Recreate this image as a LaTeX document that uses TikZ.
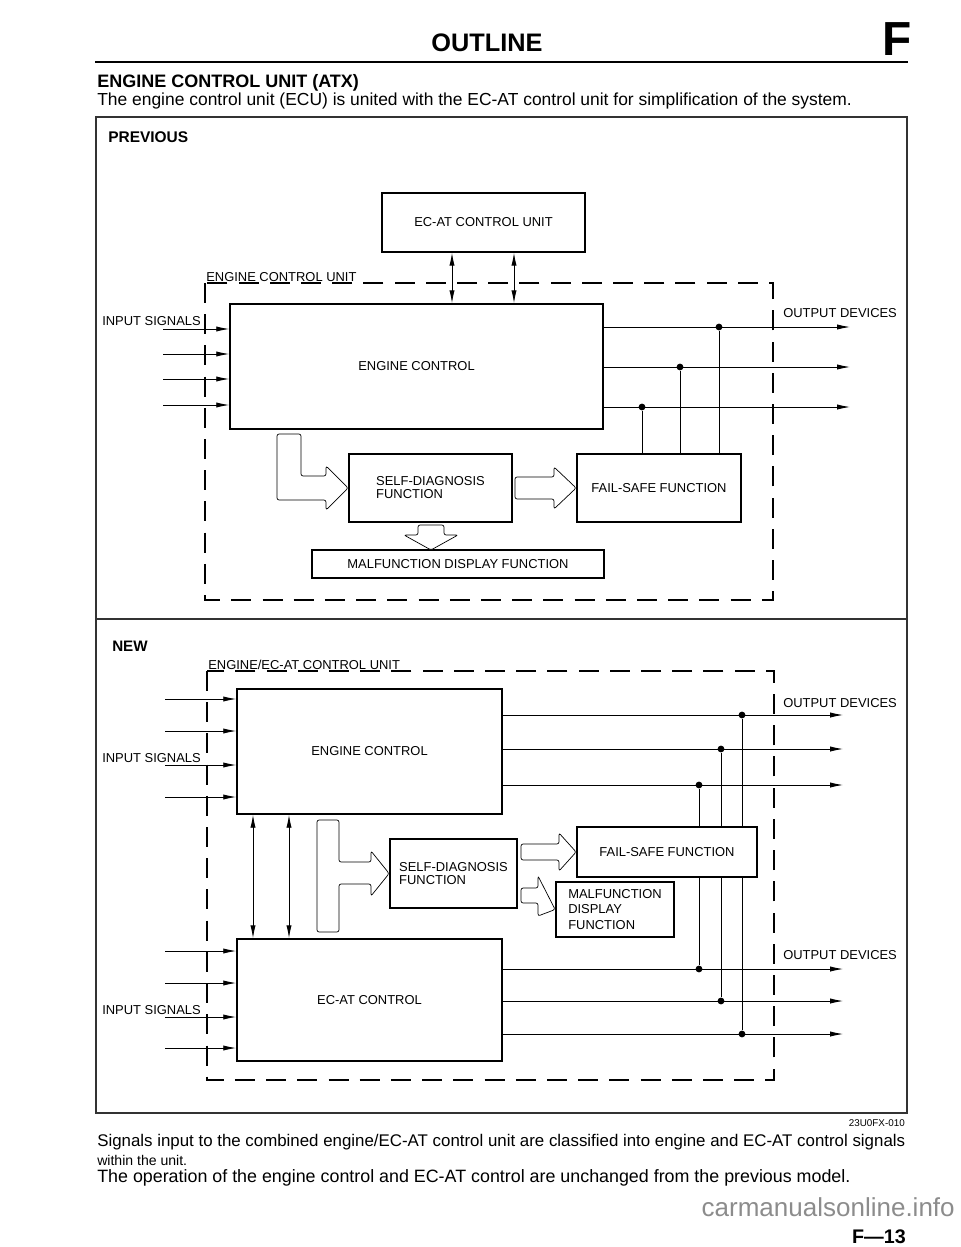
\documentclass[tikz,border=0pt]{standalone}
\usepackage{fontspec}
\setmainfont{Liberation Sans}
\usetikzlibrary{arrows.meta,calc}
\newcommand\lbl{\fontsize{9.2}{10.5}\selectfont}

\begin{document}
\begin{tikzpicture}[x=0.025cm, y=-0.025cm,
    box/.style={draw, line width=1.2pt, fill=white, inner sep=0pt, align=center, font=\lbl},
    sig/.style={line width=0.6pt, -{Latex[length=3.2mm,width=1.3mm]}},
    both/.style={line width=0.6pt, {Latex[length=3.2mm,width=1.3mm]}-{Latex[length=3.2mm,width=1.3mm]}},
    wire/.style={line width=0.6pt},
    dot/.style={circle, fill, inner sep=0pt, minimum size=1.7mm},
    unit/.style={line width=0.9pt, dash pattern=on 5mm off 2.8mm},
    hollow/.style={line width=0.5pt, fill=white, rounded corners=1.5pt},
    txt/.style={font=\lbl, inner sep=0pt, anchor=west}]
    \useasboundingbox (0,0) rectangle (960,1247);

    % page header
    \node at (487,43) (outline) [font=\fontsize{18}{20}\selectfont\bfseries] {OUTLINE};
    \node at (897,39) (sect) [font=\fontsize{34}{36}\selectfont\bfseries] {F};
    \draw[line width=1.6pt] (95,62) -- (908,62);
    \node at (97,83) (title) [anchor=west, inner sep=0pt, font=\fontsize{12.8}{14}\selectfont\bfseries] {ENGINE CONTROL UNIT (ATX)};
    \node at (97,101) (intro) [anchor=west, inner sep=0pt, font=\fontsize{12.4}{14}\selectfont] {The engine control unit (ECU) is united with the EC-AT control unit for simplification of the system.};

    % frame
    \draw[line width=0.8pt, black!80] (96,117) rectangle (907,1113);
    \draw[line width=0.8pt, black!80] (96,619) -- (907,619);

    % ---- previous ----
    \node at (108,137) (prev) [txt, font=\fontsize{11}{12}\selectfont\bfseries] {PREVIOUS};
    \draw[unit] (205,283) rectangle (773,600);
    \node at (206,277) (unitA) [txt] {ENGINE CONTROL UNIT};

    \node at (483.5,222.5) (ecatunit) [box, minimum width=5.075cm, minimum height=1.475cm] {EC-AT CONTROL UNIT};
    \node at (416.5,366.5) (engA) [box, minimum width=9.325cm, minimum height=3.125cm] {ENGINE CONTROL};
    \node at (430.5,488) (sdA) [box, align=left, font=\fontsize{9.2}{9.2}\selectfont, minimum width=4.075cm, minimum height=1.7cm] {SELF-DIAGNOSIS\\FUNCTION};
    \node at (659,488) (fsA) [box, minimum width=4.1cm, minimum height=1.7cm] {FAIL-SAFE FUNCTION};
    \node at (458,564) (mdfA) [box, minimum width=7.3cm, minimum height=0.7cm] {MALFUNCTION DISPLAY FUNCTION};

    \coordinate (busA1) at (452,0);
    \coordinate (busA2) at (514,0);
    \draw[both] (busA1 |- ecatunit.south) -- (busA1 |- engA.north);
    \draw[both] (busA2 |- ecatunit.south) -- (busA2 |- engA.north);

    \node at (102,321) (inA) [txt] {INPUT SIGNALS};
    \foreach \y [count=\i] in {329,354,379,405} {
        \coordinate (inA\i) at (163,\y);
        \draw[sig] (inA\i) -- (inA\i -| engA.west);
    }

    \node at (783,313) (outA) [txt] {OUTPUT DEVICES};
    \foreach \y/\x [count=\i] in {327/719,367/680,407/642} {
        \coordinate (outA\i) at (850,\y);
        \draw[sig] (outA\i -| engA.east) -- (outA\i);
        \node at (\x,\y) (dA\i) [dot] {};
        \draw[wire] (dA\i) -- (dA\i |- fsA.north);
    }

    \draw[hollow] (277,434) -- (301,434) -- (301,476) -- (326,476) -- (326,466) -- (sdA.west) -- (326,510) -- (326,500) -- (277,500) -- cycle;
    \draw[hollow] (515,477) -- (554,477) -- (554,467) -- (fsA.west) -- (554,509) -- (554,499) -- (515,499) -- cycle;
    \draw[hollow] (418,525) -- (444,525) -- (444,535) -- (458,535) -- (431,550) -- (404,535) -- (418,535) -- cycle;

    % ---- new ----
    \node at (112,646) (new) [txt, font=\fontsize{10.8}{12}\selectfont\bfseries] {NEW};
    \draw[unit] (207,671) rectangle (774,1080);
    \node at (208,665) (unitB) [txt] {ENGINE/EC-AT CONTROL UNIT};

    \node at (369.5,751.5) (engB) [box, minimum width=6.625cm, minimum height=3.125cm] {ENGINE CONTROL};
    \node at (369.5,1000) (ecatB) [box, minimum width=6.625cm, minimum height=3.05cm] {EC-AT CONTROL};
    \node at (453.5,873.5) (sdB) [box, align=left, font=\fontsize{9.2}{9}\selectfont, minimum width=3.175cm, minimum height=1.725cm] {SELF-DIAGNOSIS\\FUNCTION};
    \node at (667,852) (fsB) [box, minimum width=4.5cm, minimum height=1.25cm] {FAIL-SAFE FUNCTION};
    \node at (615,909.5) (mdfB) [box, align=left, font=\fontsize{9.2}{10.8}\selectfont, minimum width=2.95cm, minimum height=1.375cm] {MALFUNCTION\\DISPLAY\\FUNCTION};

    \coordinate (busB1) at (253,0);
    \coordinate (busB2) at (289,0);
    \draw[both] (busB1 |- engB.south) -- (busB1 |- ecatB.north);
    \draw[both] (busB2 |- engB.south) -- (busB2 |- ecatB.north);

    \node at (102,758) (inB) [txt] {INPUT SIGNALS};
    \foreach \y [count=\i] in {699,731,765,797} {
        \coordinate (inB\i) at (165,\y);
        \draw[sig] (inB\i) -- (inB\i -| engB.west);
    }
    \node at (102,1010) (inC) [txt] {INPUT SIGNALS};
    \foreach \y [count=\i] in {951,983,1017,1048} {
        \coordinate (inC\i) at (165,\y);
        \draw[sig] (inC\i) -- (inC\i -| ecatB.west);
    }

    \node at (783,703) (outB) [txt] {OUTPUT DEVICES};
    \foreach \y/\x [count=\i] in {715/742,749/721,785/699} {
        \coordinate (outB\i) at (843,\y);
        \draw[sig] (outB\i -| engB.east) -- (outB\i);
        \node at (\x,\y) (dB\i) [dot] {};
    }
    \node at (783,955) (outC) [txt] {OUTPUT DEVICES};
    \foreach \y/\x [count=\i] in {969/699,1001/721,1034/742} {
        \coordinate (outC\i) at (843,\y);
        \draw[sig] (outC\i -| ecatB.east) -- (outC\i);
        \node at (\x,\y) (dC\i) [dot] {};
    }
    \foreach \a/\b in {dB3/dC1,dB2/dC2,dB1/dC3} {
        \draw[wire] (\a) -- (\a |- fsB.north);
        \draw[wire] (\a |- fsB.south) -- (\b);
    }

    \draw[hollow] (317,820) -- (339,820) -- (339,862) -- (371,862) -- (371,851) -- (sdB.west) -- (371,896) -- (371,884) -- (339,884) -- (339,932) -- (317,932) -- cycle;
    \draw[hollow] (521,844) -- (559,844) -- (559,833) -- (fsB.west) -- (559,871) -- (559,860) -- (521,860) -- cycle;
    \draw[hollow] (521,888) -- (538,888) -- (538,876) -- (mdfB.west) -- (538,916) -- (538,903) -- (521,903) -- cycle;

    % page footer
    \node at (905,1123) (code) [anchor=east, inner sep=0pt, font=\fontsize{7}{8}\selectfont] {23U0FX-010};
    \node at (97,1142) (note1) [anchor=west, inner sep=0pt, font=\fontsize{12}{14}\selectfont] {Signals input to the combined engine/EC-AT control unit are classified into engine and EC-AT control signals};
    \node at (97,1160) (note2) [anchor=west, inner sep=0pt, font=\fontsize{10}{12}\selectfont] {within the unit.};
    \node at (97,1178) (note3) [anchor=west, inner sep=0pt, font=\fontsize{12.7}{14}\selectfont] {The operation of the engine control and EC-AT control are unchanged from the previous model.};
    \node at (955,1207) (wm) [anchor=east, inner sep=0pt, text=black!45, font=\fontsize{18.5}{20}\selectfont] {carmanualsonline.info};
    \node at (906,1243) (page) [anchor=base east, inner sep=0pt, font=\fontsize{14}{16}\selectfont\bfseries] {F---13};
\end{tikzpicture}
\end{document}
